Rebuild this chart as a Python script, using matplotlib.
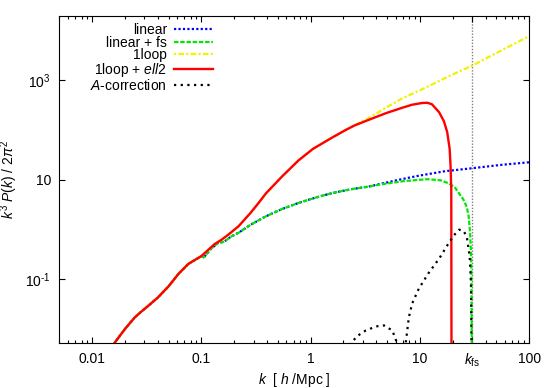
import matplotlib
matplotlib.use("Agg")
import matplotlib.pyplot as plt
from matplotlib.ticker import NullLocator
import numpy as np

plt.rcParams["font.family"] = "Liberation Sans"
plt.rcParams["font.size"] = 10
plt.rcParams["mathtext.fontset"] = "custom"
plt.rcParams["mathtext.rm"] = "Liberation Sans"
plt.rcParams["mathtext.it"] = "Liberation Sans:italic"
plt.rcParams["mathtext.bf"] = "Liberation Sans:bold"

kfs = 30.0

# low-k part where all the curves lie on top of each other
k_low = [0.0126, 0.0158, 0.0200, 0.0245, 0.0282, 0.0316, 0.0398, 0.0501, 0.0617, 0.0759, 0.0871, 0.100]
p_low = [0.0025, 0.0049, 0.0098, 0.0166, 0.0219, 0.0269, 0.0417, 0.0708, 0.126, 0.200, 0.240, 0.288]

# linear / linear + fs, shared middle part
k_lin_mid = [0.105, 0.123, 0.141, 0.162, 0.186, 0.219, 0.282, 0.389, 0.55, 0.776, 1.12, 1.58, 2.4, 3.39]
p_lin_mid = [0.269, 0.407, 0.525, 0.562, 0.708, 0.851, 1.23, 1.82, 2.57, 3.39, 4.37, 5.37, 6.46, 7.24]

# linear, high k
k_lin_hi = [4.27, 6.5, 9.77, 17.0, 30.2, 55.0, 100.0]
p_lin_hi = [8.13, 10.0, 12.0, 14.8, 17.0, 19.8, 22.4]

# linear + fs, high k (cut at k_fs)
k_fs_hi = [4.27, 7.08, 11.7, 15.5, 18.6, 21.0, 22.9, 25.0, 26.9, 28.0, 28.8, 29.3, 29.6, 30.0]
p_fs_hi = [7.94, 9.33, 10.2, 9.7, 8.32, 6.9, 5.25, 4.0, 2.82, 1.8, 0.89, 0.4, 0.17, 0.001]

# 1loop + ell2
k_ell2 = [0.115, 0.132, 0.151, 0.174, 0.219, 0.282, 0.331, 0.389, 0.55, 0.776, 1.05, 1.58, 2.09,
          2.51, 3.39, 4.90, 6.92, 8.5, 10.5, 11.7, 12.9, 15.0, 16.6, 17.8, 18.75, 19.1, 19.4, 19.5]
p_ell2 = [0.380, 0.501, 0.603, 0.759, 1.15, 2.14, 3.31, 5.25, 11.7, 24.5, 41.7, 70.8, 100.0,
          123.0, 160.0, 219.0, 282.0, 324.0, 351.0, 355.0, 331.0, 229.0, 151.0, 91.0, 41.7, 19.0, 6.3, 0.001]

# 1loop, after it separates from the ell2 curve
k_1loop_hi = [2.51, 3.39, 4.9, 6.92, 10.0, 14.1, 20.0, 30.2, 50.0, 95.5, 100.0]
p_1loop_hi = [125.0, 174.0, 282.0, 437.0, 631.0, 912.0, 1318.0, 1995.0, 3548.0, 7413.0, 7760.0]

# A-correction (absolute value)
k_acor = [2.0, 2.33, 2.69, 3.20, 3.98, 4.70, 5.60, 6.31, 6.84, 7.41, 7.94, 8.51,
          9.77, 12.0, 15.1, 18.6, 21.0, 22.9, 25.1, 26.9, 28.6, 29.4, 29.7, 30.0]
p_acor = [0.001, 0.0050, 0.0071, 0.0091, 0.011, 0.0115, 0.0091, 0.0045, 0.0001, 0.0049,
          0.017, 0.032, 0.063, 0.13, 0.26, 0.55, 0.80, 0.98, 0.93, 0.71, 0.28, 0.079, 0.0056, 0.0001]

k_linear = k_low + k_lin_mid + k_lin_hi
p_linear = p_low + p_lin_mid + p_lin_hi
k_linfs = k_low + k_lin_mid + k_fs_hi
p_linfs = p_low + p_lin_mid + p_fs_hi
k_1l2 = k_low + k_ell2
p_1l2 = p_low + p_ell2
k_1loop = k_low + k_ell2[:13] + k_1loop_hi
p_1loop = p_low + p_ell2[:13] + p_1loop_hi

fig = plt.figure(figsize=(5.54, 3.88), dpi=100)
ax = fig.add_axes([0.107, 0.115, 0.848, 0.844])

ax.axvline(kfs, color="#808080", ls=(0, (1, 1.2)), lw=1.0, zorder=1)

ax.plot(k_linear, p_linear, color="#0000ff", ls=(0, (1, 1)), lw=1.6, label="linear")
ax.plot(k_linfs, p_linfs, color="#00e800", ls=(0, (2, 0.8)), lw=1.6, label="linear + fs")
ax.plot(k_1loop, p_1loop, color="#f2f200", ls=(0, (1, 1, 2.5, 1)), lw=1.6, label="1loop")
ax.plot(k_1l2, p_1l2, color="#ff0000", ls="-", lw=1.7, label=r"1loop + $\mathit{ell2}$")
ax.plot(k_acor, p_acor, color="black", ls=(0, (1, 2)), lw=1.6, label=r"$\mathit{A}$-correction")

ax.set_xscale("log")
ax.set_yscale("log")
ax.set_xlim(0.005, 100)
ax.set_ylim(0.005, 2e4)

ax.set_xticks([0.01, 0.1, 1, 10, kfs, 100],
              labels=["0.01", "0.1", "1", "10", r"$k_{\rm fs}$", "100"])
ax.set_yticks([0.1, 10, 1000], labels=["$10^{\u20101}$", "10", r"$10^{3}$"])
ax.yaxis.set_minor_locator(NullLocator())
ax.tick_params(which="both", direction="in", top=True, right=True)
ax.tick_params(which="major", length=4.5, width=0.8)
ax.tick_params(which="minor", length=2.5, width=0.8)
ax.tick_params(axis="x", pad=6)
ax.tick_params(axis="y", pad=6)

ax.set_xlabel(r"$k$  [ $h$ /Mpc ]")
ax.set_ylabel(r"$k^3\ P(k)\ /\ 2\pi^2$")
ax.xaxis.set_label_coords(0.5, -0.085)
ax.yaxis.set_label_coords(-0.083, 0.5)

ax.legend(loc="upper right", bbox_to_anchor=(0.327, 0.978), frameon=False,
          markerfirst=False, handlelength=2.8, handletextpad=0.5,
          labelspacing=-0.1, borderpad=0, borderaxespad=0)

plt.savefig("out.png", dpi=100)
